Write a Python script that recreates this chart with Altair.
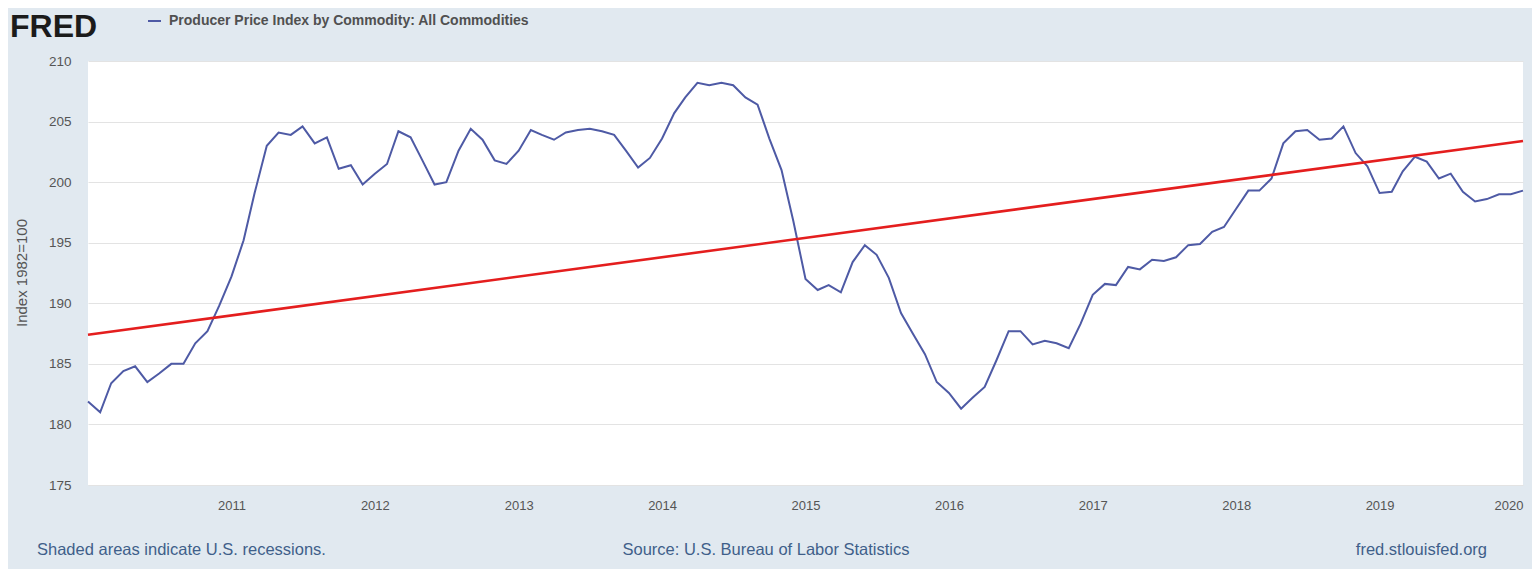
import altair as alt
import pandas as pd

# ---- data (monthly, Jan 2010 - Jan 2020) ----
months = pd.date_range("2010-01-01", periods=121, freq="MS").strftime("%Y-%m-%d").tolist()
ppi = [
    181.9, 181.0, 183.4, 184.4, 184.8, 183.5, 184.2, 185.0, 185.0, 186.7, 187.7, 189.8,
    192.2, 195.2, 199.1, 203.0, 204.1, 203.9, 204.6, 203.2, 203.7, 201.1, 201.4, 199.8,
    200.7, 201.5, 204.2, 203.7, 201.8, 199.8, 200.0, 202.6, 204.4, 203.5, 201.8, 201.5,
    202.6, 204.3, 203.9, 203.5, 204.1, 204.3, 204.4, 204.2, 203.9, 202.6, 201.2, 202.0,
    203.6, 205.7, 207.0, 208.2, 208.0, 208.2, 208.0, 207.0, 206.4, 203.6, 201.0, 196.8,
    192.0, 191.1, 191.5, 190.9, 193.4, 194.8, 194.0, 192.1, 189.2, 187.5, 185.8, 183.5,
    182.6, 181.3, 182.2, 183.1, 185.3, 187.7, 187.7, 186.6, 186.9, 186.7, 186.3, 188.3,
    190.7, 191.6, 191.5, 193.0, 192.8, 193.6, 193.5, 193.8, 194.8, 194.9, 195.9, 196.3,
    197.8, 199.3, 199.3, 200.3, 203.2, 204.2, 204.3, 203.5, 203.6, 204.6, 202.4, 201.3,
    199.1, 199.2, 200.9, 202.1, 201.7, 200.3, 200.7, 199.2, 198.4, 198.6, 199.0, 199.0,
    199.3,
]
trend_dates = ["2010-01-01", "2020-01-01"]
trend_values = [187.4, 203.4]
y_ticks = [175, 180, 185, 190, 195, 200, 205, 210]
x_tick_years = [2011, 2012, 2013, 2014, 2015, 2016, 2017, 2018, 2019, 2020]

series_name = "Producer Price Index by Commodity: All Commodities"
y_title = "Index 1982=100"
footer_left = "Shaded areas indicate U.S. recessions."
footer_mid = "Source: U.S. Bureau of Labor Statistics"
footer_right = "fred.stlouisfed.org"

df = pd.DataFrame({"date": months, "ppi": ppi})
trend = pd.DataFrame({"date": trend_dates, "value": trend_values})

W, H = 1435, 424
FONT = "Liberation Sans"
LINE_COLOR = "#4e5aa5"
TXT = "#555555"
FOOT = "#3f5f8a"

xscale = alt.Scale(
    type="utc",
    domain=[alt.DateTime(year=2010, month=1, date=1, utc=True),
            alt.DateTime(year=2020, month=1, date=1, utc=True)],
)
yscale = alt.Scale(domain=[175, 210], nice=False, zero=False)

xaxis = alt.Axis(
    title=None,
    values=[alt.DateTime(year=y, month=1, date=1, utc=True) for y in x_tick_years],
    format="%Y",
    grid=False, domain=False, ticks=False,
    labelPadding=14, labelFontSize=13, labelColor=TXT, labelFont=FONT,
    labelFlush=True,
)
yaxis = alt.Axis(
    title=None, values=y_ticks,
    grid=True, gridColor="#e3e3e3", gridWidth=1,
    domain=False, ticks=False,
    labelPadding=17, labelFontSize=13.5, labelColor=TXT, labelFont=FONT,
)

base_line = alt.Chart(df).mark_line(color=LINE_COLOR, strokeWidth=2).encode(
    x=alt.X("date:T", scale=xscale, axis=xaxis),
    y=alt.Y("ppi:Q", scale=yscale, axis=yaxis),
)

trend_line = alt.Chart(trend).mark_line(color="#e41e1e", strokeWidth=2.6).encode(
    x=alt.X("date:T", scale=xscale),
    y=alt.Y("value:Q", scale=yscale),
)


def label(text, x, y, font=FONT, **kw):
    return alt.Chart(pd.DataFrame({"t": [text]})).mark_text(font=font, **kw).encode(
        text="t:N", x=alt.value(x), y=alt.value(y)
    )


fred = label("FRED", -78, -24, fontSize=32, fontWeight="bold", color="#1b1b1b",
             align="left", baseline="alphabetic")
legend_dash = alt.Chart(pd.DataFrame({"a": [0]})).mark_rule(
    color=LINE_COLOR, strokeWidth=2
).encode(x=alt.value(60), x2=alt.value(73), y=alt.value(-40))
legend_txt = label(series_name, 81, -40, fontSize=14, fontWeight="bold",
                   color="#505050", align="left", baseline="middle")
ytitle = label(y_title, -66, H / 2, fontSize=15, color=TXT, angle=270,
               align="center", baseline="middle")
f_left = label(footer_left, -51, 489, fontSize=16.5, color=FOOT,
               align="left", baseline="middle")
f_mid = label(footer_mid, 678, 489, fontSize=16.5, color=FOOT,
              align="center", baseline="middle")
f_right = label(footer_right, 1399, 489, fontSize=16.5, color=FOOT,
                align="right", baseline="middle")

chart = alt.layer(
    base_line, trend_line, fred, legend_dash, legend_txt, ytitle, f_left, f_mid, f_right
).properties(
    width=W, height=H,
    autosize=alt.AutoSizeParams(type="none"),
    padding={"left": 80, "top": 53, "right": 9, "bottom": 84},
    background="#e1e9f0",
).configure_view(fill="white", stroke=None)

chart.save("out.html", embed_options={"renderer": "svg", "actions": False})
